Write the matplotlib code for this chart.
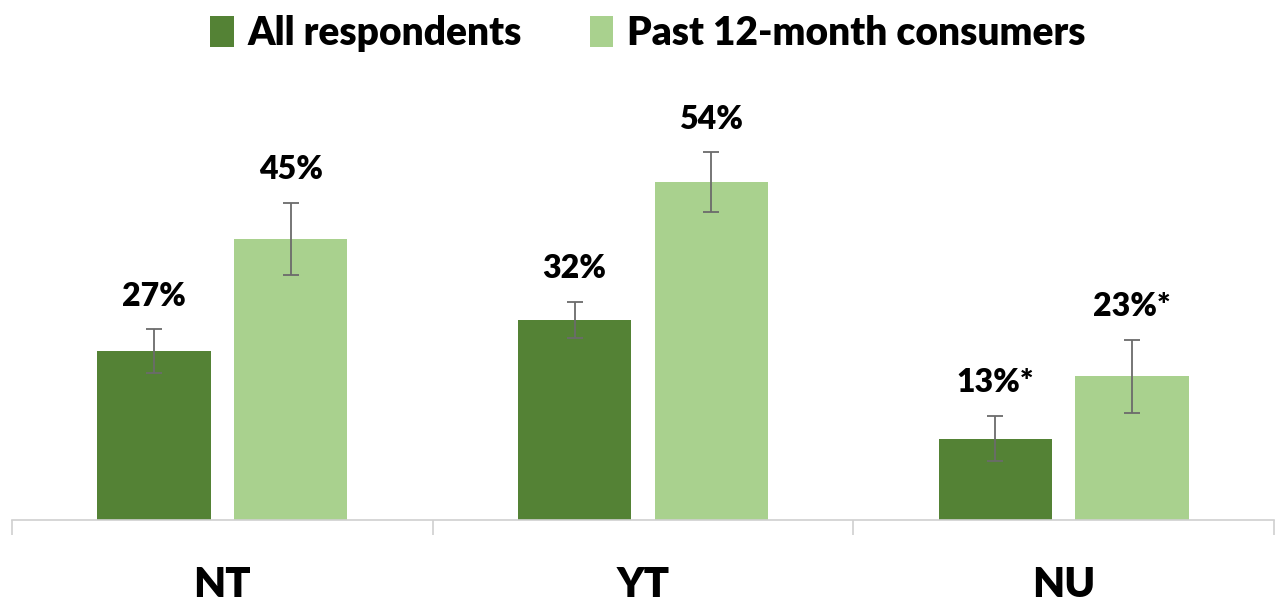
import matplotlib
matplotlib.use("Agg")
import matplotlib.pyplot as plt
from matplotlib.patches import Patch
import numpy as np

regions = ["NT", "YT", "NU"]
series_names = ["All respondents", "Past 12-month consumers"]
all_resp = [27, 32, 13]
past_12m = [45, 54, 23]
all_resp_err = [3.5, 2.9, 3.6]
past_12m_err = [5.8, 4.8, 5.8]
all_resp_labels = ["27%", "32%", "13%*"]
past_12m_labels = ["45%", "54%", "23%*"]

dark_green = "#548235"
light_green = "#A9D18E"
err_color = "#6b6b6b"
text_weight = 'heavy'

plt.rcParams['font.family'] = ['Lato', 'DejaVu Sans']

W, H = 1275, 599
fig = plt.figure(figsize=(W / 100, H / 100), dpi=100)
ax = fig.add_axes([12 / W, (H - 520) / H, (1274 - 12) / W, 375 / H])

x = np.arange(len(regions))
width = 0.27
offset = (width + 0.055) / 2

err_kw = dict(ecolor=err_color, elinewidth=1.3, capsize=6, capthick=1.3)
ax.bar(x - offset, all_resp, width, color=dark_green, yerr=all_resp_err,
       error_kw=err_kw, zorder=2)
ax.bar(x + offset, past_12m, width, color=light_green, yerr=past_12m_err,
       error_kw=err_kw, zorder=2)

for xi, v, e, lab in zip(x - offset, all_resp, all_resp_err, all_resp_labels):
    ax.text(xi, v + e + 3.0, lab, ha='center', va='bottom', fontsize=23,
            fontweight=text_weight, color='black')
for xi, v, e, lab in zip(x + offset, past_12m, past_12m_err, past_12m_labels):
    ax.text(xi, v + e + 3.0, lab, ha='center', va='bottom', fontsize=23,
            fontweight=text_weight, color='black')

ax.set_ylim(0, 60)
ax.set_xlim(-0.5, 2.5)
ax.set_yticks([])
for side in ['left', 'right', 'top']:
    ax.spines[side].set_visible(False)
ax.spines['bottom'].set_color('#d0d0d0')
ax.spines['bottom'].set_linewidth(1.2)

ax.set_xticks(x)
ax.set_xticklabels(regions, fontsize=30, fontweight=text_weight)
ax.tick_params(axis='x', which='major', length=0, pad=33)
ax.set_xticks([-0.5, 0.5, 1.5, 2.5], minor=True)
ax.tick_params(axis='x', which='minor', length=11, width=1.2, color='#d0d0d0',
               direction='out')

handles = [Patch(facecolor=dark_green, edgecolor='none'),
           Patch(facecolor=light_green, edgecolor='none')]
leg = fig.legend(handles, series_names, loc='upper center', ncol=2,
                 bbox_to_anchor=(0.508, 1.02), frameon=False,
                 prop={'size': 28, 'weight': text_weight},
                 handlelength=0.6, handleheight=0.85, handletextpad=0.35,
                 columnspacing=1.75, borderaxespad=0.3)

fig.savefig("out.png", dpi=100)
